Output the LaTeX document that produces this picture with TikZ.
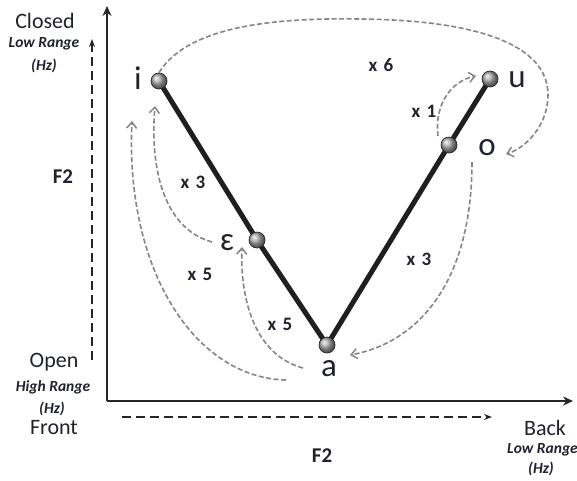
\documentclass[tikz,border=0pt]{standalone}
\usepackage{fontspec}
\setmainfont{Carlito}
\usetikzlibrary{arrows.meta}
\pgfdeclarelayer{bg}
\pgfsetlayers{bg,main}
\definecolor{txt}{HTML}{20222E}
\tikzset{
  ball/.style={circle,minimum size=16pt,inner sep=0pt,shading=ball,ball color=gray!65,draw=black!85,line width=0.7pt},
  vowel/.style={text=txt,font=\fontsize{33}{33}\selectfont,inner sep=0pt},
  cnt/.style={text=txt,font=\fontsize{19}{19}\selectfont\bfseries,inner sep=0pt},
  big/.style={text=txt,font=\fontsize{22}{22}\selectfont,inner sep=0pt},
  small/.style={text=txt,font=\fontsize{15.5}{15.5}\selectfont\bfseries\itshape,inner sep=0pt},
  ftwo/.style={text=txt,font=\fontsize{21}{21}\selectfont\bfseries,inner sep=0pt},
  trans/.style={draw=black!48,line width=1.6pt,dash pattern=on 5pt off 2.5pt,-{Straight Barb[length=6pt,width=10pt,line width=1.5pt]}},
  vline/.style={draw=black!88,line width=5pt,line cap=round},
  axis/.style={draw=black!85,line width=1.3pt,-{Stealth[length=10pt,width=9pt]}},
  daxis/.style={draw=black!85,line width=1.5pt,dash pattern=on 9pt off 5pt,-{Stealth[length=8pt,width=6pt]}}
}
\begin{document}
\begin{tikzpicture}[x=1pt,y=-1pt]
\useasboundingbox (0,0) rectangle (577,480);
% axes
\coordinate (org) at (107,401);
\coordinate (ytop) at (107,6);
\coordinate (xend) at (573,401);
\draw[axis] (org) -- (ytop);
\draw[axis] (org) -- (xend);
\coordinate (dv0) at (92,360);
\coordinate (dv1) at (92,39);
\coordinate (dh0) at (122,417);
\coordinate (dh1) at (492,417);
\draw[daxis] (dv0) -- (dv1);
\draw[daxis] (dh0) -- (dh1);
% axis labels
\node[big] (closed) at (45,21) {Closed};
\node[small] (lr1) at (44,44) {Low Range};
\node[small] (hz1) at (44,66) {(Hz)};
\node[ftwo] (f2l) at (63,177) {F2};
\node[big] (open) at (54,362) {Open};
\node[small] (hr) at (53,387) {High Range};
\node[small] (hz2) at (52,409) {(Hz)};
\node[big] (front) at (54,428) {Front};
\node[big] (back) at (545,428) {Back};
\node[small,anchor=west] (lr2) at (507,450) {Low Range};
\node[small] (hz3) at (541,469) {(Hz)};
\node[ftwo] (f2b) at (322,456) {F2};
% vowel points
\node[ball] (i) at (159,81) {};
\node[ball] (e) at (257,240) {};
\node[ball] (a) at (327,345) {};
\node[ball] (o) at (449,145) {};
\node[ball] (u) at (490,79) {};
\begin{pgfonlayer}{bg}
\draw[vline] (i.center) -- (e.center);
\draw[vline] (e.center) -- (a.center);
\draw[vline] (a.center) -- (o.center);
\draw[vline] (o.center) -- (u.center);
\end{pgfonlayer}
% vowel labels
\node[vowel] (il) at (138,78) {i};
\node[vowel] (ul) at (517,80) {u};
\node[vowel] (ol) at (487,148) {o};
\node[vowel] (el) at (227,243) {ɛ};
\node[vowel] (al) at (329,369) {a};
% counts
\node[cnt] (c6) at (381,65) {x\,\,6};
\node[cnt] (c1) at (424,111) {x\,\,1};
\node[cnt] (c3a) at (193,182) {x\,\,3};
\node[cnt] (c5a) at (200,274) {x\,\,5};
\node[cnt] (c5b) at (280,324) {x\,\,5};
\node[cnt] (c3b) at (419,259) {x\,\,3};
% transitions
\coordinate (t1e) at (506,154);
\draw[trans] (i.north) .. controls (190,22) and (290,18) .. (360,19)
  .. controls (470,20) and (548,42) .. (548,95)
  .. controls (548,125) and (526,148) .. (t1e);
\coordinate (t2s) at (438,136);
\coordinate (t2e) at (476,76);
\draw[trans] (t2s) .. controls (434,100) and (455,80) .. (t2e);
\coordinate (t3s) at (472,162);
\coordinate (t3e) at (350,355);
\draw[trans] (t3s) .. controls (472,280) and (420,342) .. (t3e);
\coordinate (t4s) at (212,242);
\coordinate (t4e) at (155,106);
\draw[trans] (t4s) .. controls (162,228) and (150,165) .. (t4e);
\coordinate (t5s) at (303,368);
\coordinate (t5e) at (242,247);
\draw[trans] (t5s) .. controls (255,355) and (240,300) .. (t5e);
\coordinate (t6s) at (286,380);
\coordinate (t6e) at (132,121);
\draw[trans] (t6s) .. controls (195,378) and (125,270) .. (t6e);
\end{tikzpicture}
\end{document}
